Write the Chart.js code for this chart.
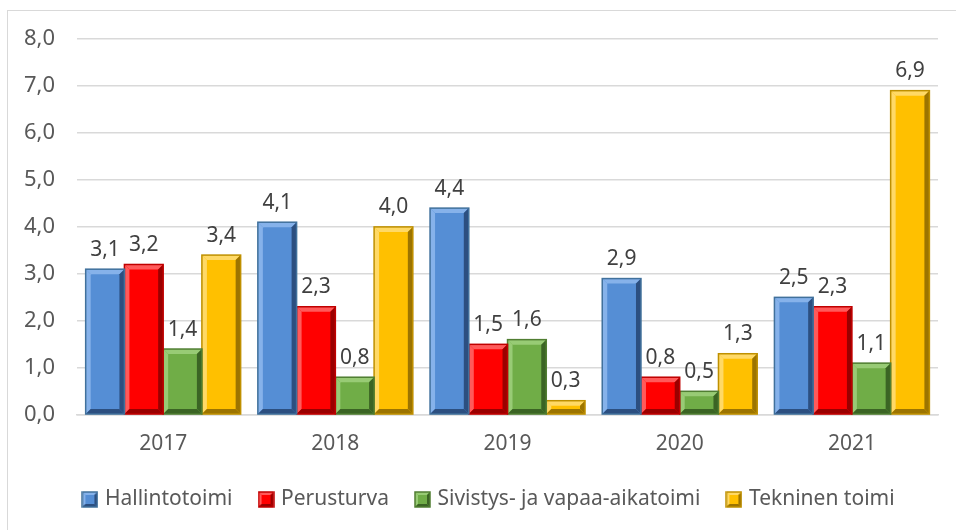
<!DOCTYPE html>
<html>
<head>
<meta charset="utf-8">
<script src="https://cdn.jsdelivr.net/npm/chart.js@4.4.1/dist/chart.umd.min.js"></script>
<style>
    html, body { margin: 0; padding: 0; background: #fff; }
    #wrap { position: relative; width: 956px; height: 530px; overflow: hidden; }
    #frame { position: absolute; left: 7px; top: 10px; width: 980px; height: 560px; border: 1.5px solid #d9d9d9; box-sizing: border-box; }
    canvas { position: absolute; left: 0; top: 0; }
</style>
</head>
<body>
<div id="wrap">
    <div id="frame"></div>
    <canvas id="chart" width="956" height="530"></canvas>
</div>
<script>
const years = ["2017", "2018", "2019", "2020", "2021"];
const seriesNames = ["Hallintotoimi", "Perusturva", "Sivistys- ja vapaa-aikatoimi", "Tekninen toimi"];
const hallinto = [3.1, 4.1, 4.4, 2.9, 2.5];
const perusturva = [3.2, 2.3, 1.5, 0.8, 2.3];
const sivistys = [1.4, 0.8, 1.6, 0.5, 1.1];
const tekninen = [3.4, 4.0, 0.3, 1.3, 6.9];

const FONT = "'Noto Sans', sans-serif";
const TEXT = "#595959";

const palette = [
    { face: "#558ed5", light: "#86b2ea", dark: "#2c4f80", border: "#41719c" },
    { face: "#ff0000", light: "#ff5a5a", dark: "#9a0000", border: "#c00000" },
    { face: "#70ad47", light: "#98cb75", dark: "#3b6424", border: "#507e32" },
    { face: "#ffc000", light: "#ffd966", dark: "#9c7400", border: "#bf9000" }
];

function fmt(v) {
    return v.toFixed(1).replace(".", ",");
}

function drawBevel(ctx, L, T, R, B, col, bevel) {
    const b = Math.min(bevel, (B - T) / 2.5, (R - L) / 2.5);
    ctx.fillStyle = col.face;
    ctx.fillRect(L, T, R - L, B - T);
    ctx.fillStyle = col.light;
    ctx.beginPath();
    ctx.moveTo(L, T); ctx.lineTo(R, T); ctx.lineTo(R - b, T + b); ctx.lineTo(L + b, T + b);
    ctx.closePath(); ctx.fill();
    ctx.beginPath();
    ctx.moveTo(L, T); ctx.lineTo(L + b, T + b); ctx.lineTo(L + b, B - b); ctx.lineTo(L, B);
    ctx.closePath(); ctx.fill();
    ctx.fillStyle = col.dark;
    ctx.beginPath();
    ctx.moveTo(R, T); ctx.lineTo(R, B); ctx.lineTo(R - b, B - b); ctx.lineTo(R - b, T + b);
    ctx.closePath(); ctx.fill();
    ctx.beginPath();
    ctx.moveTo(L, B); ctx.lineTo(R, B); ctx.lineTo(R - b, B - b); ctx.lineTo(L + b, B - b);
    ctx.closePath(); ctx.fill();
    ctx.strokeStyle = col.border;
    ctx.lineWidth = 1.5;
    ctx.strokeRect(L, T, R - L, B - T);
}

// beveled legend markers
const legendIcons = palette.map(col => {
    const c = document.createElement("canvas");
    c.width = 17; c.height = 17;
    drawBevel(c.getContext("2d"), 1, 1, 16, 16, col, 3);
    return c;
});

const bevelPlugin = {
    id: "bevel",
    afterLayout(chart) {
        // legend sits a bit right of the canvas centre in the original
        chart.legend.left += 20;
        chart.legend.right += 20;
    },
    afterDatasetDraw(chart, args) {
        const ctx = chart.ctx;
        const col = palette[args.index];
        ctx.save();
        args.meta.data.forEach(bar => {
            const p = bar.getProps(["x", "y", "base", "width"], true);
            drawBevel(ctx, p.x - p.width / 2, p.y, p.x + p.width / 2, p.base, col, 5);
        });
        ctx.restore();
    },
    afterDatasetsDraw(chart) {
        const ctx = chart.ctx;
        ctx.save();
        ctx.font = "21px " + FONT;
        ctx.fillStyle = "#404040";
        ctx.textAlign = "center";
        ctx.textBaseline = "bottom";
        chart.data.datasets.forEach((ds, i) => {
            chart.getDatasetMeta(i).data.forEach((bar, j) => {
                const p = bar.getProps(["x", "y"], true);
                ctx.fillText(fmt(ds.data[j]), p.x, p.y - 9);
            });
        });
        ctx.restore();
    }
};

const allSeries = [hallinto, perusturva, sivistys, tekninen];

new Chart(document.getElementById("chart"), {
    type: "bar",
    data: {
        labels: years,
        datasets: allSeries.map((data, i) => ({
            label: seriesNames[i],
            data: data,
            backgroundColor: palette[i].face,
            borderColor: palette[i].border,
            borderWidth: 0,
            pointStyle: legendIcons[i],
            categoryPercentage: 0.9,
            barPercentage: 1.0
        }))
    },
    options: {
        responsive: false,
        animation: false,
        devicePixelRatio: 1,
        layout: { padding: { left: 2, right: 18, top: 39, bottom: 10 } },
        plugins: {
            tooltip: { enabled: false },
            legend: {
                position: "bottom",
                labels: {
                    usePointStyle: true,
                    font: { family: FONT, size: 21 },
                    color: TEXT,
                    padding: 29,
                    boxWidth: 9,
                    boxHeight: 17
                }
            }
        },
        scales: {
            x: {
                grid: { display: false },
                border: { display: true, color: "#d9d9d9", width: 1.5 },
                ticks: { font: { family: FONT, size: 21 }, color: TEXT, padding: 9 },
                afterFit: scale => { scale.height -= 6; }
            },
            y: {
                min: 0,
                max: 8,
                grid: { color: "#d9d9d9", lineWidth: 1.5, drawTicks: false },
                border: { display: false },
                ticks: {
                    stepSize: 1,
                    padding: 22,
                    font: { family: FONT, size: 22 },
                    color: TEXT,
                    callback: v => fmt(v)
                }
            }
        }
    },
    plugins: [bevelPlugin]
});
</script>
</body>
</html>
